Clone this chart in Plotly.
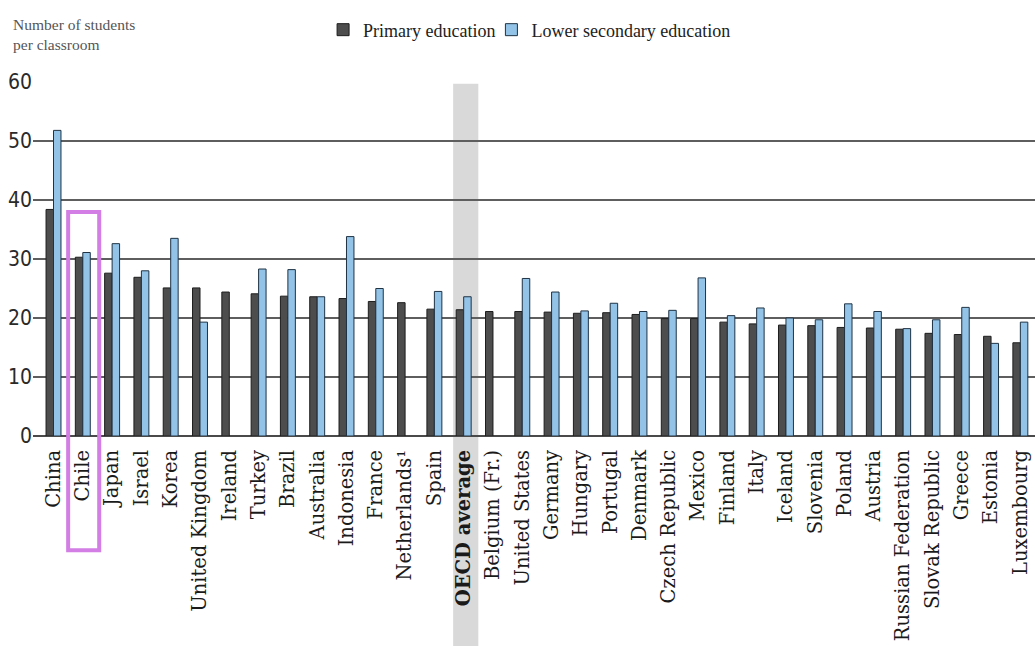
import plotly.graph_objects as go

# Average class size by level of education
countries = [
    "China", "Chile", "Japan", "Israel", "Korea", "United Kingdom", "Ireland",
    "Turkey", "Brazil", "Australia", "Indonesia", "France", "Netherlands¹",
    "Spain", "OECD average", "Belgium (Fr.)", "United States", "Germany",
    "Hungary", "Portugal", "Denmark", "Czech Republic", "Mexico", "Finland",
    "Italy", "Iceland", "Slovenia", "Poland", "Austria", "Russian Federation",
    "Slovak Republic", "Greece", "Estonia", "Luxembourg",
]
primary = [
    38.4, 30.3, 27.6, 26.9, 25.1, 25.1, 24.4, 24.1, 23.7, 23.6, 23.3, 22.8,
    22.6, 21.5, 21.4, 21.1, 21.1, 21.0, 20.8, 20.9, 20.6, 19.9, 19.9, 19.3,
    19.0, 18.8, 18.7, 18.4, 18.3, 18.1, 17.4, 17.2, 16.9, 15.8,
]
lower_secondary = [
    51.8, 31.1, 32.6, 28.0, 33.5, 19.3, None, 28.3, 28.2, 23.6, 33.8, 25.0,
    None, 24.5, 23.6, None, 26.7, 24.4, 21.2, 22.5, 21.1, 21.3, 26.8, 20.4,
    21.7, 20.0, 19.7, 22.4, 21.1, 18.2, 19.7, 21.8, 15.7, 19.3,
]
y_ticks = [0, 10, 20, 30, 40, 50, 60]

highlight = "Chile"
average = "OECD average"

serif = "DejaVu Serif, Liberation Serif, serif"
legend_serif = "Liberation Serif, DejaVu Serif, serif"
narrow = "Liberation Sans Narrow, DejaVu Sans Condensed, Arial Narrow, sans-serif"

idx = list(range(len(countries)))
ticktext = [f"<b>{c}</b>" if c == average else c for c in countries]

fig = go.Figure()
fig.add_trace(go.Bar(
    x=idx, y=primary, name="Primary education", legend="legend",
    marker=dict(color="#4d4d4d", line=dict(color="#1e1e1e", width=1)),
))
fig.add_trace(go.Bar(
    x=idx, y=lower_secondary, name="Lower secondary education",
    legend="legend2",
    marker=dict(color="#93c3e6", line=dict(color="#1f3345", width=1)),
))

# shaded column behind the OECD average
avg_i = countries.index(average)
fig.add_shape(
    type="rect", xref="x", yref="paper",
    x0=avg_i - 0.36, x1=avg_i + 0.5, y0=-0.62, y1=0.995,
    fillcolor="#d9d9d9", line=dict(width=0), layer="below",
)

# outline around the highlighted country
hi = countries.index(highlight)
fig.add_shape(
    type="rect", xref="x", yref="paper",
    x0=hi - 0.5, x1=hi + 0.56, y0=-0.323, y1=0.633,
    fillcolor="rgba(0,0,0,0)", line=dict(color="#d27ee4", width=4),
    layer="above",
)

fig.add_annotation(
    text="Number of students<br>per classroom",
    xref="paper", yref="paper", x=-0.022, y=1.135,
    xanchor="left", yanchor="middle", align="left", showarrow=False,
    font=dict(family=legend_serif, size=15.5, color="#555555"),
)

legend_style = dict(
    orientation="h", y=1.147, xanchor="left", yanchor="middle",
    font=dict(family=legend_serif, size=18, color="#222222"),
    itemwidth=30, bgcolor="rgba(0,0,0,0)",
)

fig.update_layout(
    width=1035, height=646,
    margin=dict(l=33, r=0, t=82, b=210),
    paper_bgcolor="white", plot_bgcolor="rgba(0,0,0,0)",
    barmode="group", bargap=0.49, bargroupgap=0,
    showlegend=True,
    legend=dict(x=0.2895, **legend_style),
    legend2=dict(x=0.4575, **legend_style),
    xaxis=dict(
        range=[-0.7, 33.5], tickmode="array", tickvals=idx, ticktext=ticktext,
        tickangle=-90, showgrid=False, zeroline=False, showline=False,
        ticks="", ticklabelstandoff=9,
        tickfont=dict(family=serif, size=19.5, color="#1a1a1a"),
    ),
    yaxis=dict(
        range=[0, 60], tickmode="array", tickvals=y_ticks,
        showgrid=True, gridcolor="#5e5e5e", gridwidth=2,
        zeroline=True, zerolinecolor="#4a4a4a", zerolinewidth=2,
        showline=False, ticks="",
        tickfont=dict(family=narrow, size=21, color="#2a2a2a"),
    ),
)

fig.write_html("out.html")
